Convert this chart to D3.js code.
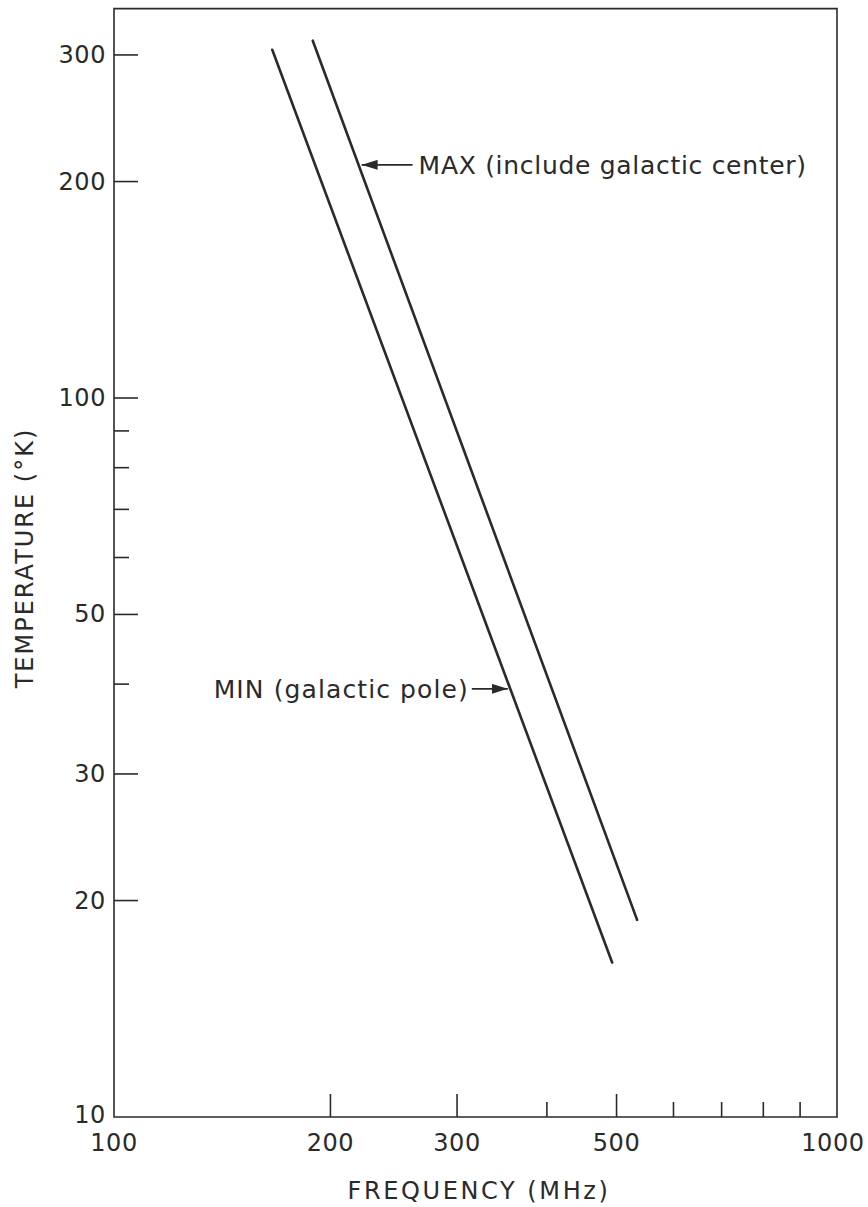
<!DOCTYPE html>
<html><head><meta charset="utf-8">
<script src="https://cdn.jsdelivr.net/npm/d3@7"></script>
<style>
html,body{margin:0;padding:0;background:#fff;}
svg{display:block;}
text{font-family:"DejaVu Sans",sans-serif;fill:#2a2a2a;}
</style></head>
<body>
<svg id="chart" width="868" height="1207"></svg>
<script>
// Data (log-log): frequency in MHz, temperature in K
const minFreq = [166, 493];
const minTemp = [305, 16.4];
const maxFreq = [189, 534];
const maxTemp = [314, 18.8];

const xMajorTicks = [200, 300, 500];
const xMinorTicks = [400, 600, 700, 800, 900];
const xTickLabels = [100, 200, 300, 500, 1000];
const yMajorTicks = [20, 30, 50, 100, 200, 300];
const yMinorTicks = [40, 60, 70, 80, 90];
const yTickLabels = [10, 20, 30, 50, 100, 200, 300];

const annotationNames = ["MAX (include galactic center)", "MIN (galactic pole)"];
const annotationFreq = [221, 353];
const annotationTemp = [211, 39.4];

const svg = d3.select("#chart");
const x = d3.scaleLog().domain([100, 1000]).range([114, 833]);
const y = d3.scaleLog().domain([10, 100]).range([1117, 398]);
const ink = "#2a2a2a";

// frame
const frameTop = y(348), frameRight = x(1000) + 4;
svg.append("path")
  .attr("d", `M${x(100)},${y(10)} L${x(100)},${frameTop} L${frameRight},${frameTop} L${frameRight},${y(10)} Z`)
  .attr("fill", "none").attr("stroke", ink).attr("stroke-width", 1.6);

// x ticks (inward)
svg.selectAll(".xmaj").data(xMajorTicks).enter().append("line")
  .attr("x1", d => x(d)).attr("x2", d => x(d))
  .attr("y1", y(10)).attr("y2", y(10) - 23)
  .attr("stroke", ink).attr("stroke-width", 1.6);
svg.selectAll(".xmin").data(xMinorTicks).enter().append("line")
  .attr("x1", d => x(d)).attr("x2", d => x(d))
  .attr("y1", y(10)).attr("y2", y(10) - 15)
  .attr("stroke", ink).attr("stroke-width", 1.6);
svg.selectAll(".xlab").data(xTickLabels).enter().append("text")
  .attr("x", d => x(d)).attr("y", 1151)
  .attr("text-anchor", "middle").attr("font-size", 24).attr("letter-spacing", 0.6)
  .text(d => d);

// y ticks (inward)
svg.selectAll(".ymaj").data(yMajorTicks).enter().append("line")
  .attr("x1", x(100)).attr("x2", x(100) + 24)
  .attr("y1", d => y(d)).attr("y2", d => y(d))
  .attr("stroke", ink).attr("stroke-width", 1.6);
svg.selectAll(".ymin").data(yMinorTicks).enter().append("line")
  .attr("x1", x(100)).attr("x2", x(100) + 15)
  .attr("y1", d => y(d)).attr("y2", d => y(d))
  .attr("stroke", ink).attr("stroke-width", 1.6);
svg.selectAll(".ylab").data(yTickLabels).enter().append("text")
  .attr("x", 106).attr("y", d => y(d) + (d === 10 ? 6 : 8))
  .attr("text-anchor", "end").attr("font-size", 24).attr("letter-spacing", 0.6)
  .text(d => d);

// axis titles
svg.append("text").attr("x", 479).attr("y", 1199)
  .attr("text-anchor", "middle").attr("font-size", 24)
  .attr("letter-spacing", 2.6).text("FREQUENCY (MHz)");
svg.append("text")
  .attr("transform", `translate(33,558) rotate(-90)`)
  .attr("text-anchor", "middle").attr("font-size", 24)
  .attr("letter-spacing", 2).text("TEMPERATURE (°K)");

// lines
const line = d3.line().x(d => x(d[0])).y(d => y(d[1]));
[[minFreq, minTemp], [maxFreq, maxTemp]].forEach(([f, t]) => {
  svg.append("path").datum(f.map((v, i) => [v, t[i]]))
    .attr("d", line).attr("fill", "none")
    .attr("stroke", ink).attr("stroke-width", 2.6).attr("stroke-linecap", "round");
});

// annotations
svg.append("defs").append("marker").attr("id", "ah")
  .attr("viewBox", "0 0 16 10").attr("refX", 16).attr("refY", 5)
  .attr("markerWidth", 16).attr("markerHeight", 10)
  .attr("markerUnits", "userSpaceOnUse").attr("orient", "auto")
  .append("path").attr("d", "M0,0 L16,5 L0,10 Z").attr("fill", ink);

// MAX: arrow points left to line, text to the right
{
  const tx = x(annotationFreq[0]), ty = y(annotationTemp[0]);
  svg.append("line").attr("x1", tx + 51).attr("y1", ty).attr("x2", tx).attr("y2", ty)
    .attr("stroke", ink).attr("stroke-width", 1.6).attr("marker-end", "url(#ah)");
  svg.append("text").attr("x", tx + 57).attr("y", ty + 9).attr("font-size", 25)
    .attr("letter-spacing", 0.7).text(annotationNames[0]);
}
// MIN: text to the left, arrow points right to line
{
  const tx = x(annotationFreq[1]), ty = y(annotationTemp[1]);
  svg.append("line").attr("x1", tx - 36).attr("y1", ty).attr("x2", tx).attr("y2", ty)
    .attr("stroke", ink).attr("stroke-width", 1.6).attr("marker-end", "url(#ah)");
  svg.append("text").attr("x", tx - 39).attr("y", ty + 9).attr("font-size", 25)
    .attr("letter-spacing", 1.1).attr("text-anchor", "end").text(annotationNames[1]);
}
</script>
</body></html>
